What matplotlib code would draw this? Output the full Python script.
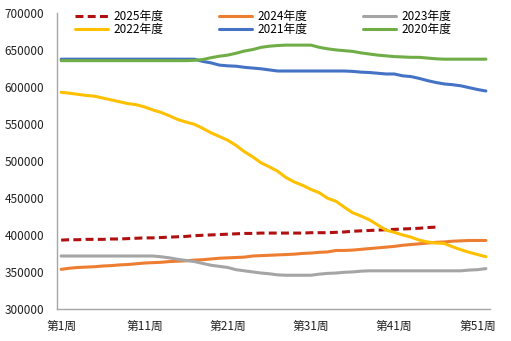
import matplotlib
matplotlib.use("Agg")
import matplotlib.pyplot as plt

plt.rcParams['font.family'] = ['Noto Sans CJK SC', 'DejaVu Sans']

weeks = list(range(1, 53))
week_labels = ["第1周", "第11周", "第21周", "第31周", "第41周", "第51周"]
week_label_pos = [1, 11, 21, 31, 41, 51]

s2025 = [393500, 394000, 394000, 394500, 394500, 394500, 395000, 395000, 395500, 396000,
         396500, 396500, 397000, 397500, 398000, 398500, 399500, 400000, 400500, 401000,
         401500, 402000, 402500, 402500, 403000, 403000, 403000, 403000, 403000, 403000,
         403500, 403500, 403500, 404000, 404500, 405500, 406000, 406500, 407000, 407500,
         408000, 408500, 409000, 409500, 410500, 411000]
s2024 = [354000, 355500, 356500, 357000, 357500, 358500, 359000, 360000, 360500, 361500,
         362500, 363000, 363500, 364500, 365000, 365500, 366500, 367000, 368000, 369000,
         369500, 370000, 370500, 372000, 372500, 373000, 373500, 374000, 374500, 375500,
         376000, 377000, 377500, 379500, 379500, 380000, 381000, 382000, 383000, 384000,
         385000, 386500, 387500, 388500, 389500, 390500, 391000, 392000, 392500, 393000,
         393000, 393000]
s2023 = [372000, 372000, 372000, 372000, 372000, 372000, 372000, 372000, 372000, 372000,
         372000, 372000, 371000, 369500, 367500, 366000, 364500, 362000, 359500, 358000,
         356500, 353500, 352000, 350500, 349000, 348000, 346500, 346000, 346000, 346000,
         346000, 347500, 348500, 349000, 350000, 350500, 351500, 352000, 352000, 352000,
         352000, 352000, 352000, 352000, 352000, 352000, 352000, 352000, 352000, 353000,
         353500, 355000]
s2022 = [593300, 592000, 590500, 589000, 588000, 585500, 583000, 580500, 578000, 576500,
         573500, 569500, 566000, 561500, 556500, 553000, 550000, 544500, 538500, 533500,
         528500, 521500, 513000, 506000, 498000, 492500, 486500, 478000, 472000, 467500,
         462000, 457500, 450000, 446000, 438000, 430500, 426000, 421000, 414000, 407000,
         404000, 400500, 397500, 393500, 391000, 389500, 389000, 384500, 380500, 377000,
         374000, 371000]
s2021 = [638000, 638000, 638000, 638000, 638000, 638000, 638000, 638000, 638000, 638000,
         638000, 638000, 638000, 638000, 638000, 638000, 638000, 635000, 633000, 630000,
         629000, 628500, 627000, 626000, 625000, 623500, 622000, 622000, 622000, 622000,
         622000, 622000, 622000, 622000, 622000, 621500, 620500, 620000, 619000, 618000,
         618000, 615500, 614500, 612000, 609000, 606500, 604500, 603500, 602000, 599500,
         597000, 595000]
s2020 = [636000, 636000, 636000, 636000, 636000, 636000, 636000, 636000, 636000, 636000,
         636000, 636000, 636000, 636000, 636000, 636000, 636500, 637500, 640000, 642000,
         643500, 646000, 649000, 651000, 654000, 655500, 656500, 657000, 657000, 657000,
         657000, 654000, 652000, 650500, 649500, 648500, 646500, 645000, 643500, 642500,
         641500, 641000, 640500, 640500, 639500, 638500, 638000, 638000, 638000, 638000,
         638000, 638000]

series = [
    ("2025年度", s2025, "#B01010"),
    ("2024年度", s2024, "#ED7D31"),
    ("2023年度", s2023, "#A5A5A5"),
    ("2022年度", s2022, "#FFC000"),
    ("2021年度", s2021, "#4472C4"),
    ("2020年度", s2020, "#70AD47"),
]

fig = plt.figure(figsize=(5.11, 3.41), dpi=100)
ax = fig.add_axes([0.1115, 0.093, 0.8475, 0.868])

handles = {}
for name, vals, col in series:
    x = weeks[:len(vals)]
    if name == "2025年度":
        ln, = ax.plot(x, vals, color=col, lw=2.2, label=name, solid_capstyle='butt',
                      dash_capstyle='butt')
        ln.set_dashes([2.6, 1.4])
    else:
        ln, = ax.plot(x, vals, color=col, lw=2.2, label=name, solid_capstyle='round')
    handles[name] = ln

ax.set_xlim(0.5, 52.5)
ax.set_ylim(300000, 700000)
ax.set_yticks(range(300000, 700001, 50000))
ax.set_yticklabels([str(v) for v in range(300000, 700001, 50000)])
ax.set_xticks(week_label_pos)
ax.set_xticklabels(week_labels)
ax.tick_params(axis='both', length=0, labelsize=8.5, colors='#222222')
ax.tick_params(axis='y', pad=9)
ax.tick_params(axis='x', pad=8)
for s in ['top', 'right']:
    ax.spines[s].set_visible(False)
for s in ['left', 'bottom']:
    ax.spines[s].set_color('#A6A6A6')
    ax.spines[s].set_linewidth(1.0)

order = ["2025年度", "2022年度", "2024年度", "2021年度", "2023年度", "2020年度"]
ax.legend([handles[n] for n in order], order,
          loc='upper left', bbox_to_anchor=(0.0416, 1.012, 0.87, 0), mode='expand',
          ncol=3, frameon=False, fontsize=8.5, handlelength=2.8, handletextpad=0.5,
          borderpad=0, borderaxespad=0, labelspacing=0.05)

fig.savefig("out.png", dpi=100)
